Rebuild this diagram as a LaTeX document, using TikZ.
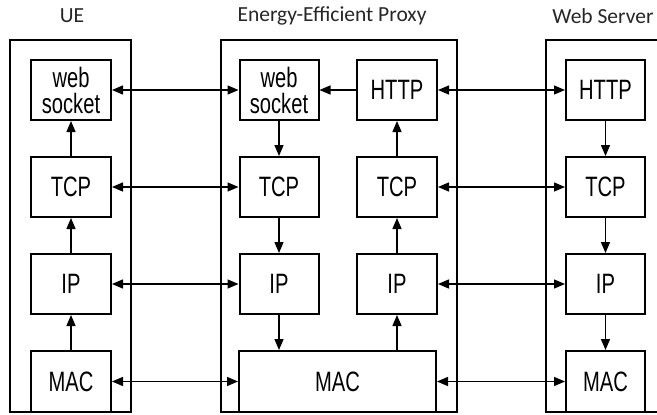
\documentclass[tikz,border=0pt]{standalone}
\usepackage{fontspec}
\usetikzlibrary{arrows.meta}
\newfontfamily\narrowfont[FakeStretch=0.72]{Liberation Sans}
\newfontfamily\titlefont{Carlito}
\tikzset{
  layer/.style={draw, line width=2pt, inner sep=0pt, align=center,
    font=\narrowfont\fontsize{28}{26}\selectfont},
  outerbox/.style={draw, line width=2pt},
  title/.style={font=\titlefont\fontsize{21.5}{24}\selectfont, text=black!85},
  link/.style={line width=1.4pt, {Triangle[length=11pt,width=9pt]}-{Triangle[length=11pt,width=9pt]}},
  flow/.style={line width=1.4pt, -{Triangle[length=11pt,width=9pt]}}
}
\begin{document}
\begin{tikzpicture}[x=1pt,y=-1pt]
\useasboundingbox (0,0) rectangle (657,415);
% titles
\node[title] (tUE) at (72,16) {UE};
\node[title] (tPX) at (332,16) {Energy-Efficient Proxy};
\node[title] (tWS) at (603,16) {Web Server};
% outer boxes
\draw[outerbox] (10,40) rectangle (131,412);
\draw[outerbox] (221,40) rectangle (457,412);
\draw[outerbox] (657,40) -- (546,40) -- (546,412) -- (657,412);
% UE
\node[layer, minimum width=80pt, minimum height=60pt] (uws) at (71,90) {web\\socket};
\node[layer, minimum width=80pt, minimum height=60pt] (utcp) at (71,187) {TCP};
\node[layer, minimum width=80pt, minimum height=60pt] (uip) at (71,284) {IP};
\node[layer, minimum width=80pt, minimum height=61pt] (umac) at (71,381.5) {MAC};
% Proxy
\node[layer, minimum width=79pt, minimum height=60pt] (pws) at (279,90) {web\\socket};
\node[layer, minimum width=80pt, minimum height=60pt] (phttp) at (397,90) {HTTP};
\node[layer, minimum width=79pt, minimum height=60pt] (ptcpa) at (279,187) {TCP};
\node[layer, minimum width=80pt, minimum height=60pt] (ptcpb) at (397,187) {TCP};
\node[layer, minimum width=79pt, minimum height=60pt] (pipa) at (279,284) {IP};
\node[layer, minimum width=80pt, minimum height=60pt] (pipb) at (397,284) {IP};
\node[layer, minimum width=197pt, minimum height=61pt] (pmac) at (337.5,381.5) {MAC};
% Web server
\node[layer, minimum width=79pt, minimum height=60pt] (shttp) at (605.5,90) {HTTP};
\node[layer, minimum width=79pt, minimum height=60pt] (stcp) at (605.5,187) {TCP};
\node[layer, minimum width=79pt, minimum height=60pt] (sip) at (605.5,284) {IP};
\node[layer, minimum width=79pt, minimum height=61pt] (smac) at (605.5,381.5) {MAC};
% horizontal links
\draw[link] (uws) -- (pws);
\draw[flow] (phttp) -- (pws);
\draw[link] (phttp) -- (shttp);
\draw[link] (utcp) -- (ptcpa);
\draw[link] (ptcpb) -- (stcp);
\draw[link] (uip) -- (pipa);
\draw[link] (pipb) -- (sip);
\draw[link] (umac.east) -- (umac.east -| pmac.west);
\draw[link] (pmac.east) -- (pmac.east -| smac.west);
% vertical flows UE
\draw[flow] (umac) -- (uip);
\draw[flow] (uip) -- (utcp);
\draw[flow] (utcp) -- (uws);
% proxy left (down)
\draw[flow] (pws) -- (ptcpa);
\draw[flow] (ptcpa) -- (pipa);
\draw[flow] (pipa.south) -- (pipa.south |- pmac.north);
% proxy right (up)
\draw[flow] (pipb.south |- pmac.north) -- (pipb.south);
\draw[flow] (pipb) -- (ptcpb);
\draw[flow] (ptcpb) -- (phttp);
% web server (down)
\draw[flow] (shttp) -- (stcp);
\draw[flow] (stcp) -- (sip);
\draw[flow] (sip) -- (smac);
\end{tikzpicture}
\end{document}
